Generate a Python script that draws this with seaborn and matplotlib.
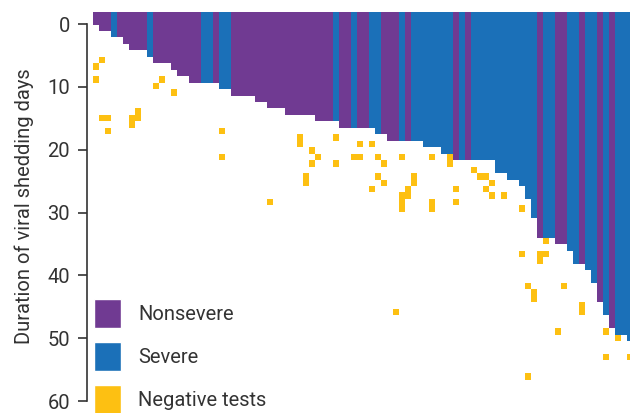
import numpy as np
import pandas as pd
import seaborn as sns
import matplotlib.pyplot as plt
from matplotlib.colors import ListedColormap
from matplotlib.patches import Patch

PURPLE = "#703a92"
BLUE = "#1b70b8"
YELLOW = "#fdc012"
TEXT = "#333333"

# Patients ordered by shedding duration; 0 = nonsevere, 1 = severe
severity = [
    0, 0, 0, 1, 0, 0, 0, 0, 0, 1,
    0, 0, 0, 0, 0, 0, 0, 0, 1, 1,
    0, 1, 1, 0, 0, 0, 0, 0, 0, 0,
    0, 0, 0, 0, 0, 0, 0, 0, 0, 0,
    1, 0, 0, 1, 0, 0, 1, 1, 0, 0,
    0, 1, 0, 1, 1, 1, 1, 1, 1, 1,
    0, 1, 0, 1, 1, 1, 1, 1, 1, 1,
    1, 1, 1, 1, 0, 1, 1, 0, 0, 1,
    1, 0, 1, 1, 0, 1, 0, 1, 1, 1,
]

# Number of daily cells with viral shedding for each patient
shedding_days = [
    2, 3, 3, 4, 4, 5, 6, 6, 6, 7,
    8, 8, 8, 9, 10, 10, 11, 11, 11, 11,
    11, 12, 12, 13, 13, 13, 13, 14, 14, 15,
    15, 15, 16, 16, 16, 16, 16, 17, 17, 17,
    17, 18, 18, 18, 18, 18, 18, 19, 19, 20,
    20, 20, 20, 20, 20, 21, 21, 21, 22, 22,
    23, 23, 23, 23, 23, 23, 23, 25, 25, 26,
    26, 27, 29, 32, 35, 35, 35, 36, 36, 37,
    39, 39, 40, 42, 45, 47, 49, 50, 50, 51,
]

# Days with a negative test, per patient
negative_tests = {
    0: [9, 11], 1: [8, 17], 2: [17, 19], 6: [17, 18], 7: [16, 17],
    10: [12], 11: [11], 13: [13], 21: [19, 23], 29: [30],
    34: [20, 21], 35: [26, 27], 36: [22, 24], 37: [23], 40: [20, 24],
    43: [23], 44: [21, 23], 46: [21, 28], 47: [23, 26], 48: [24, 27],
    50: [47], 51: [23, 29, 30, 31], 52: [28, 29], 53: [26, 27],
    56: [23, 30, 31], 59: [23, 24], 60: [28, 30], 63: [25], 64: [26],
    65: [26, 28], 66: [27, 29], 68: [29], 71: [31, 38], 72: [43, 57],
    73: [44, 45], 74: [38, 39], 75: [36, 38], 77: [50], 78: [43],
    81: [46, 47], 85: [50, 54], 87: [51], 89: [54],
}

tick_days = np.arange(0, 61, 10)

n_rows = 63
grid = np.full((n_rows, len(severity)), np.nan)
for i, (sev, dur) in enumerate(zip(severity, shedding_days)):
    grid[:dur, i] = sev
for i, days in negative_tests.items():
    for d in days:
        grid[d - 1, i] = 2
cells = pd.DataFrame(grid)

sns.set_theme(style="white")
plt.rcParams["font.family"] = ["Roboto", "DejaVu Sans"]

fig = plt.figure(figsize=(6.3, 4.13), dpi=100)
ax = fig.add_axes([0.14714, 0.0, 0.85286, 0.97191])

sns.heatmap(
    cells, ax=ax, cmap=ListedColormap([PURPLE, BLUE, YELLOW]),
    vmin=-0.5, vmax=2.5, cbar=False, xticklabels=False, yticklabels=False,
)
ax.set_xlim(0, 89.55)
ax.set_ylim(62.14, 0)

# day scale drawn against the cell rows
tick_rows = 1.92 + 0.973 * tick_days
ax.set_yticks(tick_rows)
ax.set_yticklabels([str(d) for d in tick_days])
ax.tick_params(axis="y", left=True, length=6.5, width=1.2, color=TEXT,
               pad=5.8, labelsize=14.5, labelcolor=TEXT, rotation=0)

ax.spines["left"].set_visible(True)
ax.spines["left"].set_position(("outward", 4.1))
ax.spines["left"].set_bounds(tick_rows[0], tick_rows[-1])
ax.spines["left"].set_color(TEXT)
ax.spines["left"].set_linewidth(1.2)

ax.set_ylabel("Duration of viral shedding days", fontsize=14.5, color=TEXT)
ax.yaxis.set_label_coords(-0.109, 0.514)

handles = [Patch(facecolor=PURPLE), Patch(facecolor=BLUE), Patch(facecolor=YELLOW)]
ax.legend(
    handles, ["Nonsevere", "Severe", "Negative tests"],
    loc="upper left", bbox_to_anchor=(94 / 630, 1 - 298.5 / 413),
    bbox_transform=fig.transFigure, frameon=False, fontsize=14.5,
    handlelength=1.36, handleheight=1.9, handletextpad=0.82,
    labelspacing=0.66, borderpad=0, borderaxespad=0, labelcolor=TEXT,
)

fig.savefig("out.png", dpi=100)
